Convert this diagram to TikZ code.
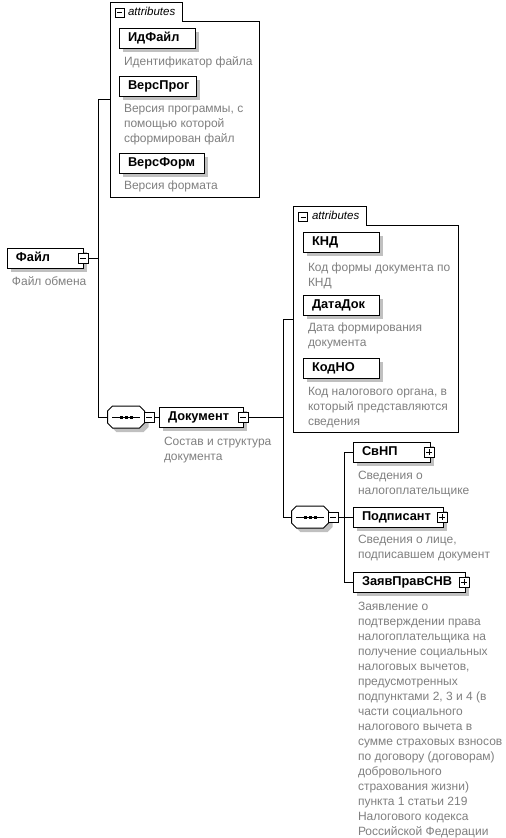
\documentclass[tikz,border=0pt]{standalone}
\usepackage{fontspec}
\setmainfont{Liberation Sans}
\usetikzlibrary{shadows}
\definecolor{desccol}{RGB}{128,128,128}
\definecolor{shad}{RGB}{192,192,192}
\newcommand\octpath[1]{([yshift=6pt]#1.west) -- ([xshift=5pt]#1.north west) -- ([xshift=-5pt]#1.north east) -- ([yshift=6pt]#1.east) -- ([yshift=-6pt]#1.east) -- ([xshift=-5pt]#1.south east) -- ([xshift=5pt]#1.south west) -- ([yshift=-6pt]#1.west) -- cycle}
\newcommand\seqmark[1]{%
  \begin{scope}[transform canvas={shift={(4pt,-4pt)}}]\fill[shad] \octpath{#1};\end{scope}
  \filldraw[fill=white, draw=black, line width=1pt] \octpath{#1};
  \draw[line width=1pt] ([xshift=-14pt]#1.center) -- ([xshift=14pt]#1.center);
  \foreach \dx in {-5,0,5} \fill ([xshift=\dx pt-1.5pt,yshift=-1.5pt]#1.center) rectangle ++(3,-3);}
\begin{document}
\begin{tikzpicture}[x=1pt,y=-1pt,
  every node/.style={inner sep=0pt, outer sep=0pt},
  conn/.style={draw=black, line width=1pt},
  frame/.style={draw=black, line width=1pt},
  elem/.style={draw=black, line width=1pt, fill=white, anchor=north west,
    minimum height=20pt, text height=10pt, text depth=3pt, inner xsep=9pt,
    align=left, font=\fontsize{12.8}{15}\selectfont\bfseries,
    general shadow={fill=shad, shadow xshift=4pt, shadow yshift=-4pt}},
  desc/.style={anchor=north west, align=left, text=desccol,
    font=\fontsize{12}{15}\selectfont},
  pm/.style={draw=black, line width=0.8pt, fill=white, minimum size=10pt, inner sep=0pt},
  minus/.style={pm, path picture={\draw[line width=0.8pt]
    ([xshift=2pt]path picture bounding box.west) -- ([xshift=-2pt]path picture bounding box.east);}},
  plus/.style={pm, path picture={\draw[line width=0.8pt]
    ([xshift=2pt]path picture bounding box.west) -- ([xshift=-2pt]path picture bounding box.east)
    ([yshift=-2pt]path picture bounding box.north) -- ([yshift=2pt]path picture bounding box.south);}},
  attrbox/.style={anchor=north west, minimum width=#1},
  attrlbl/.style={anchor=base west, font=\fontsize{11.5}{13}\selectfont\itshape},
  seqbox/.style={minimum width=37pt, minimum height=22pt},
]
\useasboundingbox[fill=white] (0,0) rectangle (506,838);

% ---------- attributes of Файл ----------
\node[attrbox=149pt, minimum height=195pt] (attr1) at (110,2) {};
\draw[frame] (attr1.south west) -- (attr1.north west) -- ++(72,0) -- ++(0,19) -| (attr1.south east) -- cycle;
\node[minus, minimum size=9pt] (attr1M) at ([xshift=9.5pt,yshift=-10.5pt]attr1.north west) {};
\node[attrlbl] (attr1L) at ([xshift=18pt,yshift=-13pt]attr1.north west) {attributes};

\node[elem, text width=58pt] (idf) at (119,28) {ИдФайл};
\node[desc] (idfD) at (124,54.5) {\strut Идентификатор файла};
\node[elem, text width=59pt] (vp) at (119,76) {ВерсПрог};
\node[desc] (vpD) at (124,102) {\strut Версия программы, с\\помощью которой\\сформирован файл};
\node[elem, text width=67pt] (vf) at (119,153) {ВерсФорм};
\node[desc] (vfD) at (124,178.5) {\strut Версия формата};

% ---------- Файл ----------
\node[elem, text width=58pt] (file) at (7,248) {Файл};
\node[minus] (fileM) at (file.east) {};
\node[desc] (fileD) at (12,274.5) {\strut Файл обмена};

% ---------- sequence 1 ----------
\node[seqbox] (s1) at (126,417) {};
\seqmark{s1}
\node[minus] (s1M) at (149,417) {};

% ---------- Документ ----------
\node[elem, text width=66pt] (doc) at (159,407) {Документ};
\node[minus] (docM) at (doc.east) {};
\node[desc] (docD) at (164,434.5) {\strut Состав и структура\\документа};

% ---------- attributes of Документ ----------
\node[attrbox=165pt, minimum height=226pt] (attr2) at (293,206) {};
\draw[frame] (attr2.south west) -- (attr2.north west) -- ++(73,0) -- ++(0,19) -| (attr2.south east) -- cycle;
\node[minus, minimum size=9pt] (attr2M) at ([xshift=10pt,yshift=-11pt]attr2.north west) {};
\node[attrlbl] (attr2L) at ([xshift=19pt,yshift=-13pt]attr2.north west) {attributes};

\node[elem, text width=58pt] (knd) at (303,232) {КНД};
\node[desc] (kndD) at (308,261) {\strut Код формы документа по\\КНД};
\node[elem, text width=58pt] (dd) at (303,295) {ДатаДок};
\node[desc] (ddD) at (308,321) {\strut Дата формирования\\документа};
\node[elem, text width=58pt] (kno) at (303,358) {КодНО};
\node[desc] (knoD) at (308,384.5) {\strut Код налогового органа, в\\который представляются\\сведения};

% ---------- sequence 2 ----------
\node[seqbox] (s2) at (310,517) {};
\seqmark{s2}
\node[minus] (s2M) at (333,517) {};

\node[elem, text width=59pt] (svnp) at (353,442) {СвНП};
\node[plus] (svnpP) at ([xshift=-1pt]svnp.east) {};
\node[desc] (svnpD) at (358,468.5) {\strut Сведения о\\налогоплательщике};
\node[elem, text width=72pt] (podp) at (353,507) {Подписант};
\node[plus] (podpP) at ([xshift=-1pt]podp.east) {};
\node[desc] (podpD) at (358,532.5) {\strut Сведения о лице,\\подписавшем документ};
\node[elem, text width=94pt] (zayav) at (353,572) {ЗаявПравСНВ};
\node[plus] (zayavP) at ([xshift=-1pt]zayav.east) {};
\node[desc] (zayavD) at (358,599.5) {\strut Заявление о\\подтверждении права\\налогоплательщика на\\получение социальных\\налоговых вычетов,\\предусмотренных\\подпунктами 2, 3 и 4 (в\\части социального\\налогового вычета в\\сумме страховых взносов\\по договору (договорам)\\добровольного\\страхования жизни)\\пункта 1 статьи 219\\Налогового кодекса\\Российской Федерации};

% ---------- connectors ----------
\draw[conn] (fileM.east) -- ++(10,0) coordinate (j1);
\draw[conn] (attr1.west -| j1) -- (s1.west -| j1);
\draw[conn] (attr1.west -| j1) -- (attr1.west);
\draw[conn] (s1.west -| j1) -- (s1.west);
\draw[conn] (s1M.east) -- (doc.west);
\draw[conn] (docM.east) -- ++(35,0) coordinate (j2);
\draw[conn] (attr2.west -| j2) -- (s2.west -| j2);
\draw[conn] (attr2.west -| j2) -- (attr2.west);
\draw[conn] (s2.west -| j2) -- (s2.west);
\draw[conn] (s2M.east) -- ++(6,0) coordinate (j3);
\draw[conn] (svnp.west -| j3) -- (zayav.west -| j3);
\draw[conn] (svnp.west -| j3) -- (svnp.west);
\draw[conn] (podp.west -| j3) -- (podp.west);
\draw[conn] (zayav.west -| j3) -- (zayav.west);
\end{tikzpicture}
\end{document}
